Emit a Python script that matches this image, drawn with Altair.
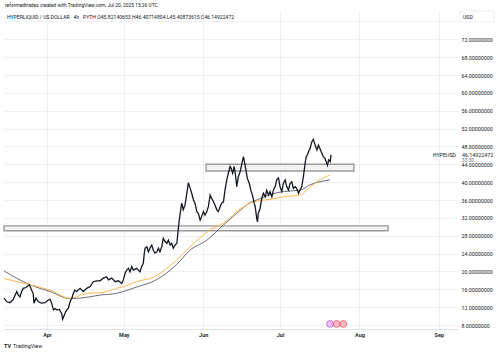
import altair as alt
import pandas as pd

# ---------------- data (days counted from 2025-04-01) ----------------
price_day = [-16.8, -15.7, -14.5, -13.2, -11.8, -11.2, -10.6, -9.9, -9.3, -8.2, -6.9, -6.0, -5.4, -5.1,
             -4.3, -3.4, -2.1, -0.8, 0.5, 1.2, 1.8, 2.5, 3.1, 3.8, 4.8, 5.7, 6.1, 7.0, 7.7, 8.3, 9.0,
             9.7, 10.3, 10.9, 11.6, 12.9, 14.2, 15.5, 16.8, 18.1, 19.4, 20.7, 22.0, 23.3, 24.0, 25.3,
             26.6, 27.9, 29.2, 29.8, 30.5, 31.1, 31.8, 32.4, 33.1, 33.7, 35.0, 36.3, 37.0, 37.6, 38.0,
             38.3, 39.0, 39.6, 40.2, 40.9, 41.5, 42.2, 42.9, 43.5, 44.1, 44.8, 45.4, 46.1, 46.8, 47.4,
             48.1, 48.7, 49.3, 50.0, 50.7, 51.1, 51.5, 52.0, 52.6, 53.2, 53.9, 54.6, 55.2, 55.9, 56.5,
             57.2, 57.8, 58.5, 59.1, 59.8, 60.4, 61.1, 61.7, 62.4, 63.0, 63.7, 64.3, 65.0, 65.6, 66.3,
             66.9, 67.6, 68.2, 68.9, 69.5, 70.2, 70.8, 71.5, 71.9, 72.5, 73.1, 73.6, 74.1, 74.7, 75.4,
             76.1, 76.7, 77.1, 77.7, 78.2, 79.0, 79.6, 80.4, 80.9, 81.3, 81.9, 82.2, 82.5, 83.2, 83.9,
             84.5, 85.2, 85.8, 86.5, 87.1, 87.8, 88.4, 89.1, 89.7, 90.4, 91.0, 91.7, 92.3, 93.0, 93.6,
             94.3, 94.9, 95.6, 96.2, 96.9, 97.5, 98.2, 98.8, 99.5, 100.1, 100.8, 101.2, 101.7, 102.1,
             102.7, 103.4, 104.0, 104.7, 105.4, 106.0, 106.6, 107.3, 107.9, 108.6, 109.0, 109.5, 110.0,
             110.6, 110.9]
price_val = [14.0, 13.2, 13.0, 13.75, 15.5, 14.7, 14.3, 15.5, 16.2, 16.4, 17.0, 15.8, 15.1, 12.9,
             14.0, 13.2, 12.9, 13.0, 13.6, 13.75, 12.9, 11.4, 11.7, 11.4, 11.5, 10.6, 9.3, 10.6, 11.4,
             11.7, 13.2, 14.0, 15.1, 15.8, 15.5, 16.2, 15.5, 16.2, 16.6, 17.7, 17.9, 17.9, 18.5, 18.8,
             18.1, 18.5, 17.7, 17.9, 17.3, 18.1, 19.6, 20.3, 20.7, 19.9, 21.1, 20.3, 20.7, 19.9, 21.1,
             21.8, 24.1, 25.2, 25.5, 24.4, 25.2, 25.9, 24.8, 24.1, 24.4, 25.2, 24.4, 25.5, 27.4, 26.7,
             26.3, 27.0, 25.9, 26.3, 25.2, 25.9, 26.3, 28.5, 30.8, 33.0, 35.3, 33.8, 34.9, 37.5, 39.9,
             38.6, 37.5, 36.0, 35.3, 33.4, 33.0, 31.5, 32.3, 33.4, 32.6, 33.4, 34.5, 37.1, 36.4, 35.6,
             34.9, 33.8, 33.4, 34.5, 35.3, 35.6, 38.2, 40.5, 42.0, 43.5, 43.1, 42.0, 43.5, 41.6, 39.0,
             41.2, 42.3, 44.2, 45.7, 44.6, 42.7, 40.9, 39.7, 38.2, 36.7, 35.3, 34.5, 31.9, 31.1, 33.0,
             34.1, 36.4, 37.5, 36.7, 38.2, 37.1, 37.9, 36.7, 38.2, 39.0, 40.5, 40.9, 39.0, 37.9, 39.7,
             40.5, 39.0, 38.2, 39.7, 40.1, 38.6, 39.0, 38.6, 37.5, 38.2, 39.0, 41.2, 44.2, 45.7, 46.1,
             46.8, 47.5, 49.0, 49.6, 48.3, 47.2, 48.3, 47.5, 46.5, 45.7, 45.3, 44.6, 43.8, 45.0, 44.6,
             46.1]

ma_gray_day = [-16.8, -6.6, 1.2, 9.0, 15.5, 20.7, 27.2, 29.8, 37.6, 38.9, 50.7, 55.9, 62.4, 68.9,
               74.1, 79.3, 83.2, 87.1, 92.3, 98.8, 102.7, 106.6, 110.5]
ma_gray_val = [20.1, 17.0, 15.5, 13.9, 14.2, 14.7, 15.1, 15.5, 17.0, 17.2, 21.6, 24.8, 27.0, 30.4,
               33.0, 35.4, 36.3, 37.2, 37.9, 38.2, 39.4, 40.1, 40.5]
ma_orange_day = [-16.8, -6.6, 1.2, 9.0, 15.5, 20.7, 27.2, 29.8, 37.6, 38.9, 50.7, 55.9, 63.7, 68.9,
                 74.1, 78.0, 79.3, 83.2, 87.1, 92.3, 98.8, 101.4, 105.4, 110.5]
ma_orange_val = [18.4, 17.0, 15.8, 14.0, 15.1, 15.2, 16.2, 16.6, 18.1, 18.2, 22.6, 25.5, 29.3, 30.8,
                 33.4, 34.9, 35.3, 35.9, 36.1, 36.7, 37.1, 38.2, 40.1, 41.6]

zone_start = [-16.8, 62.1]
zone_end = [133.2, 119.9]
zone_low = [29.1, 42.5]
zone_high = [30.2, 44.0]

event_day = [110.5, 113.1, 115.7]
event_level = [8.25, 8.25, 8.25]

month_days = [0, 30, 61, 91, 122, 153]
month_labels = ["Apr", "May", "Jun", "Jul", "Aug", "Sep"]
y_ticks = list(range(8, 77, 4))

header = "reformedtrades created with TradingView.com, Jul 20, 2025 15:26 UTC"
legend_text = "HYPERLIQUID / US DOLLAR · 4h · PYTH  O45.82140653 H46.40714804 L45.40873615 C46.14922472"
symbol = "HYPEUSD"
last_price = 46.14922472
countdown = "33:30"
currency = "USD"
brand = "TradingView"

# ---------------- chart ----------------
FONT = "Roboto"
xs = alt.Scale(domain=[-16.8, 160.5], nice=False, zero=False)
ys = alt.Scale(domain=[7.104, 78.56], nice=False, zero=False)

month_expr = "{" + ",".join(f"'{d}':'{m}'" for d, m in zip(month_days, month_labels)) + "}[datum.value]"

x_axis = alt.Axis(values=month_days, labelExpr=month_expr, grid=True, gridColor="#eef0f4",
                  domain=True, domainColor="#e0e3eb", ticks=False, labelPadding=3,
                  labelFontSize=5.5, labelColor="#131722", labelFontWeight=600, labelFont=FONT,
                  title=None)
y_axis = alt.Axis(orient="right", values=y_ticks, grid=True, gridColor="#eef0f4",
                  labelExpr="datum.value > 74 ? '' : format(datum.value, '.8f')",
                  domain=False, ticks=False, labelPadding=3, labelFontSize=5.3,
                  labelColor="#131722", labelFont=FONT, title=None, labelAlign="left")


def X(field):
    return alt.X(field, scale=xs, axis=x_axis)


def Y(field):
    return alt.Y(field, scale=ys, axis=y_axis)


zones = pd.DataFrame({"x1": zone_start, "x2": zone_end, "lo": zone_low, "hi": zone_high})
zone_layer = alt.Chart(zones).mark_rect(fill="#f3f3f3", stroke="#9a9a9a", strokeWidth=1.4).encode(
    x=X("x1:Q"), x2="x2:Q", y=Y("lo:Q"), y2="hi:Q")

gray = pd.DataFrame({"d": ma_gray_day, "v": ma_gray_val})
gray_layer = alt.Chart(gray).mark_line(color="#6a6d78", strokeWidth=1, interpolate="monotone").encode(
    x=X("d:Q"), y=Y("v:Q"))

orange = pd.DataFrame({"d": ma_orange_day, "v": ma_orange_val})
orange_layer = alt.Chart(orange).mark_line(color="#ffb74d", strokeWidth=1, interpolate="monotone").encode(
    x=X("d:Q"), y=Y("v:Q"))

price = pd.DataFrame({"d": price_day, "v": price_val})
price_layer = alt.Chart(price).mark_line(color="#131722", strokeWidth=1.3).encode(
    x=X("d:Q"), y=Y("v:Q"))

events = pd.DataFrame({"d": event_day, "v": event_level, "k": ["a", "b", "c"]})
event_layer = alt.Chart(events).mark_point(filled=True, size=45, strokeWidth=1).encode(
    x=X("d:Q"), y=Y("v:Q"),
    fill=alt.Fill("k:N", scale=alt.Scale(domain=["a", "b", "c"], range=["#e9a5f2", "#f7a1ab", "#f7a1ab"]), legend=None),
    stroke=alt.Stroke("k:N", scale=alt.Scale(domain=["a", "b", "c"], range=["#b03bd0", "#f23645", "#f23645"]), legend=None))


def one(s):
    return pd.DataFrame({"t": [s]})


header_layer = alt.Chart(one(header)).mark_text(align="left", baseline="middle", fontSize=4.9,
                                                font=FONT, color="#131722").encode(
    text="t:N", x=alt.value(1), y=alt.value(-4))
legend_layer = alt.Chart(one(legend_text)).mark_text(align="left", baseline="middle", fontSize=5.1,
                                                     font=FONT, color="#131722").encode(
    text="t:N", x=alt.value(3), y=alt.value(7))

usd_box = alt.Chart(one(currency)).mark_rect(fill="white", stroke="#e0e3eb", strokeWidth=0.6,
                                             cornerRadius=1).encode(
    x=alt.value(455), x2=alt.value(490), y=alt.value(1), y2=alt.value(12))
usd_text = alt.Chart(one(currency)).mark_text(align="left", baseline="middle", fontSize=5.2,
                                              font=FONT, color="#131722").encode(
    text="t:N", x=alt.value(459), y=alt.value(6.5))

lp = pd.DataFrame({"v": [last_price], "s": [symbol], "p": [f"{last_price:.8f}"], "c": [countdown]})
lp_box = alt.Chart(lp).mark_rect(fill="white").encode(
    x=alt.value(455), x2=alt.value(492), y=Y("v:Q"), y2=alt.value(153))
sym_layer = alt.Chart(lp).mark_text(align="right", baseline="middle", fontSize=5.3, font=FONT,
                                    color="#131722").encode(
    text="s:N", x=alt.value(452), y=Y("v:Q"))
lp_layer = alt.Chart(lp).mark_text(align="left", baseline="middle", fontSize=5.3, font=FONT,
                                   color="#131722").encode(
    text="p:N", x=alt.value(458), y=Y("v:Q"))
cd_layer = alt.Chart(lp).mark_text(align="left", baseline="middle", fontSize=4.8, font=FONT,
                                   color="#6a6d78", dy=6).encode(
    text="c:N", x=alt.value(458), y=Y("v:Q"))

brand_icon = alt.Chart(one("TV")).mark_text(align="left", baseline="middle", fontSize=5.5,
                                            font=FONT, fontWeight="bold", color="#131722").encode(
    text="t:N", x=alt.value(0), y=alt.value(336))
brand_layer = alt.Chart(one(brand)).mark_text(align="left", baseline="middle", fontSize=5.3,
                                              font=FONT, color="#131722").encode(
    text="t:N", x=alt.value(9), y=alt.value(336))

chart = alt.layer(
    zone_layer, gray_layer, orange_layer, price_layer, event_layer,
    header_layer, legend_layer, usd_box, usd_text, lp_box, sym_layer, lp_layer, cd_layer,
    brand_icon, brand_layer
).properties(
    width=454, height=319,
    autosize=alt.AutoSizeParams(type="none"),
    padding={"left": 4, "top": 10, "right": 42, "bottom": 24},
    background="white"
).configure_view(stroke=None)

chart.save("out.html", embed_options={"renderer": "svg", "actions": False})
